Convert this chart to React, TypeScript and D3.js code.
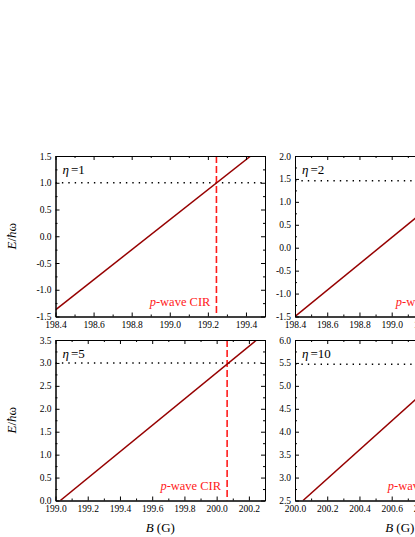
import * as d3 from "d3";
import React, { useEffect, useRef } from "react";

// one entry per panel: top-left, top-right, bottom-left, bottom-right
const etas = [1, 2, 5, 10];
const bDomains = [
  [198.4, 199.5],
  [198.4, 199.7],
  [199.0, 200.3],
  [200.0, 201.3],
];
const eDomains = [
  [-1.5, 1.5],
  [-1.5, 2.0],
  [0.0, 3.5],
  [2.5, 6.0],
];
const thresholds = [1.0, 1.46, 3.0, 5.47];
const cirB = [199.245, 199.44, 200.065, 200.99];
// energy line, read at its two visible ends
const lineB = [
  [198.4, 199.425],
  [198.4, 199.62],
  [199.03, 200.248],
  [200.05, 201.16],
];
const lineE = [
  [-1.375, 1.5],
  [-1.5, 2.0],
  [0.0, 3.5],
  [2.5, 6.0],
];

const serif = "'Liberation Serif', 'Times New Roman', serif";

export default function App() {
  const ref = useRef<SVGSVGElement>(null);

  useEffect(() => {
    const svg = d3.select(ref.current);
    svg.selectAll("*").remove();

    const cols = [55.5, 295];
    const rows = [156, 340];
    const pw = 209.5;
    const ph = 160.5;

    etas.forEach((eta, i) => {
      const x0 = cols[i % 2];
      const y0 = rows[Math.floor(i / 2)];
      const x = d3.scaleLinear(bDomains[i], [x0, x0 + pw]);
      const y = d3.scaleLinear(eDomains[i], [y0 + ph, y0]);

      // ticks: major every 0.2 G / 0.5, minor halfway
      const nx = Math.round((bDomains[i][1] - bDomains[i][0]) / 0.1);
      const xAll = d3.range(nx + 1).map((k) => bDomains[i][0] + k * 0.1);
      const xMajor = xAll.filter((_, k) => k % 2 === 0);
      const xMinor = xAll.filter((_, k) => k % 2 === 1);
      const ny = Math.round((eDomains[i][1] - eDomains[i][0]) / 0.25);
      const yAll = d3.range(ny + 1).map((k) => eDomains[i][0] + k * 0.25);
      const yMajor = yAll.filter((_, k) => k % 2 === 0);
      const yMinor = yAll.filter((_, k) => k % 2 === 1);

      const g = svg.append("g");
      const clipId = `clip${i}`;
      g.append("clipPath")
        .attr("id", clipId)
        .append("rect")
        .attr("x", x0)
        .attr("y", y0)
        .attr("width", pw)
        .attr("height", ph);

      const plot = g.append("g").attr("clip-path", `url(#${clipId})`);

      // dotted threshold
      plot
        .append("line")
        .attr("x1", x0)
        .attr("x2", x0 + pw)
        .attr("y1", y(thresholds[i]))
        .attr("y2", y(thresholds[i]))
        .attr("stroke", "#000")
        .attr("stroke-width", 1.4)
        .attr("stroke-dasharray", "1.4,5");

      // dashed CIR position
      plot
        .append("line")
        .attr("x1", x(cirB[i]))
        .attr("x2", x(cirB[i]))
        .attr("y1", y0)
        .attr("y2", y0 + ph)
        .attr("stroke", "#ff1a1a")
        .attr("stroke-width", 1.6)
        .attr("stroke-dasharray", "7,3");

      const line = d3
        .line<number>()
        .x((d) => x(lineB[i][d]))
        .y((d) => y(lineE[i][d]));
      plot
        .append("path")
        .attr("d", line([0, 1]))
        .attr("fill", "none")
        .attr("stroke", "#960000")
        .attr("stroke-width", 1.5);

      // axes
      const font = (sel) =>
        sel.attr("font-family", serif).attr("font-size", 9.5).call((s) => s.select(".domain").attr("stroke-width", 1));

      g.append("g")
        .attr("transform", `translate(0,${y0 + ph})`)
        .call(d3.axisBottom(x).tickValues(xMajor).tickSize(-4).tickSizeOuter(0).tickPadding(5).tickFormat((d) => (+d).toFixed(1)))
        .call(font);
      g.append("g")
        .attr("transform", `translate(0,${y0 + ph})`)
        .call(d3.axisBottom(x).tickValues(xMinor).tickSize(-2).tickSizeOuter(0).tickFormat(() => ""));
      g.append("g")
        .attr("transform", `translate(0,${y0})`)
        .call(d3.axisTop(x).tickValues(xMajor).tickSize(-4).tickSizeOuter(0).tickFormat(() => ""));
      g.append("g")
        .attr("transform", `translate(0,${y0})`)
        .call(d3.axisTop(x).tickValues(xMinor).tickSize(-2).tickSizeOuter(0).tickFormat(() => ""));

      g.append("g")
        .attr("transform", `translate(${x0},0)`)
        .call(d3.axisLeft(y).tickValues(yMajor).tickSize(-4).tickSizeOuter(0).tickPadding(4).tickFormat((d) => (+d).toFixed(1)))
        .call(font);
      g.append("g")
        .attr("transform", `translate(${x0},0)`)
        .call(d3.axisLeft(y).tickValues(yMinor).tickSize(-2).tickSizeOuter(0).tickFormat(() => ""));
      g.append("g")
        .attr("transform", `translate(${x0 + pw},0)`)
        .call(d3.axisRight(y).tickValues(yMajor).tickSize(-4).tickSizeOuter(0).tickFormat(() => ""));
      g.append("g")
        .attr("transform", `translate(${x0 + pw},0)`)
        .call(d3.axisRight(y).tickValues(yMinor).tickSize(-2).tickSizeOuter(0).tickFormat(() => ""));

      // eta label
      const eLabel = g
        .append("text")
        .attr("x", x0 + 7)
        .attr("y", y0 + 18)
        .attr("font-family", serif)
        .attr("font-size", 13);
      eLabel.append("tspan").attr("font-style", "italic").text("η");
      eLabel.append("tspan").attr("dx", 2).text(`=${eta}`);

      // CIR label
      const cLabel = g
        .append("text")
        .attr("x", x(cirB[i]) - 6)
        .attr("y", y0 + ph - 11)
        .attr("text-anchor", "end")
        .attr("fill", "#ff1a1a")
        .attr("font-family", serif)
        .attr("font-size", 12.5);
      cLabel.append("tspan").attr("font-style", "italic").text("p");
      cLabel.append("tspan").text("-wave CIR");

      // axis titles
      const bLabel = g
        .append("text")
        .attr("x", x0 + pw / 2)
        .attr("y", 532)
        .attr("text-anchor", "middle")
        .attr("font-family", serif)
        .attr("font-size", 13);
      if (i >= 2) {
        bLabel.append("tspan").attr("font-style", "italic").text("B");
        bLabel.append("tspan").text(" (G)");
      }

      if (i % 2 === 0) {
        const yLabel = g
          .append("text")
          .attr("transform", `translate(16,${y0 + ph / 2}) rotate(-90)`)
          .attr("text-anchor", "middle")
          .attr("font-family", serif)
          .attr("font-size", 13);
        yLabel.append("tspan").attr("font-style", "italic").text("E");
        yLabel.append("tspan").text("/");
        yLabel.append("tspan").attr("font-style", "italic").text("ħ");
        yLabel.append("tspan").text("ω");
      }
    });
  }, []);

  return <svg ref={ref} width={415} height={537} style={{ position: "absolute", left: 0, top: 0, background: "#fff" }} />;
}
